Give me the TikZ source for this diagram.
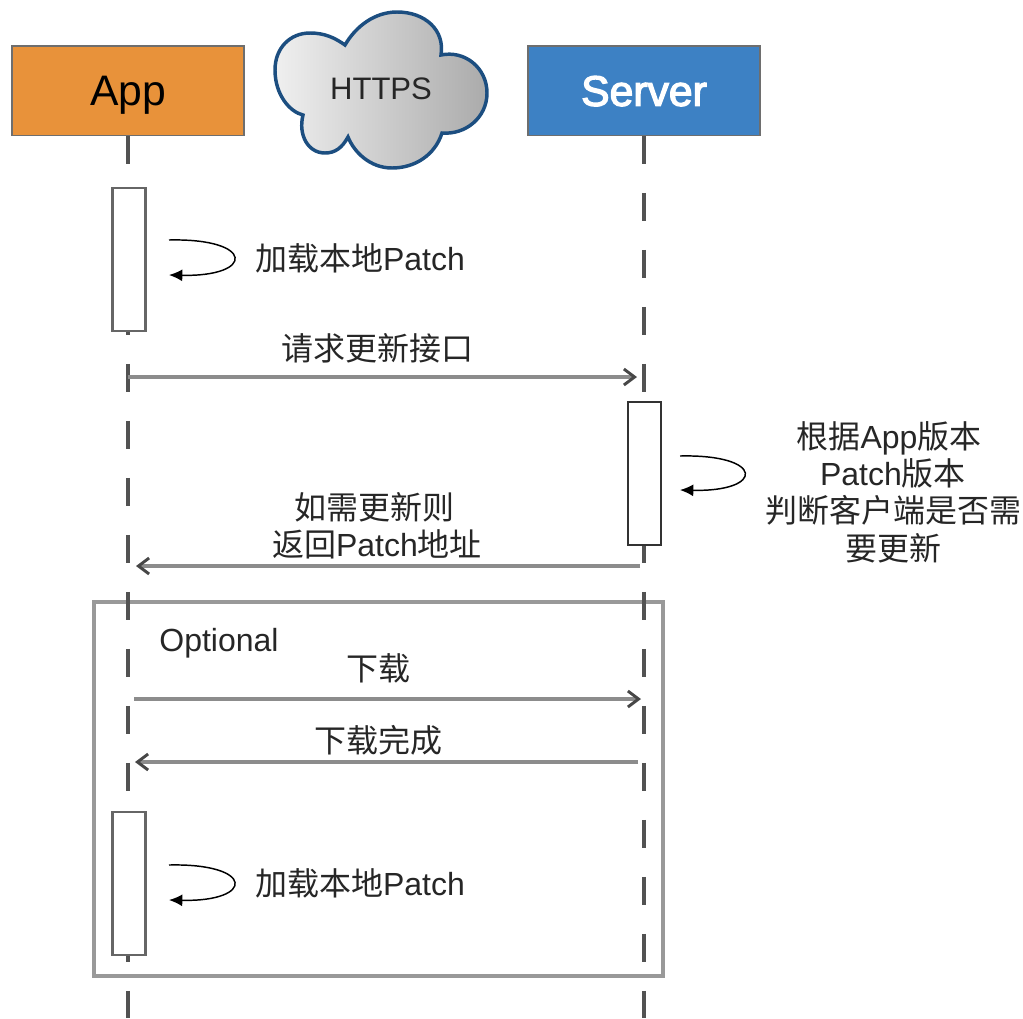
\documentclass[tikz,border=0pt]{standalone}
\usepackage{fontspec}
\setmainfont{Liberation Sans}
\newfontfamily\cjk{Noto Sans CJK SC}
\newfontfamily\heavy[FakeBold=3]{Liberation Sans}
\usetikzlibrary{arrows.meta}
\definecolor{appfill}{HTML}{E8923A}
\definecolor{serverfill}{HTML}{3D81C4}
\definecolor{cloudline}{HTML}{1C4E80}
\definecolor{edgegray}{HTML}{6E6E6E}
\tikzset{
	actor/.style={draw=edgegray,line width=1pt,minimum width=174pt,minimum height=67pt,inner sep=0pt,text height=23pt,text depth=0pt,font=\fontsize{32}{32}\selectfont},
	lifeline/.style={draw=black!68,line width=2.7pt,dash pattern=on 21pt off 21.75pt},
	bar/.style={draw=black!60,fill=white,line width=1.8pt,minimum width=25pt,minimum height=107pt,inner sep=0pt},
	msg/.style={draw=black!45,line width=2.3pt,-{Straight Barb[length=8pt,width=12pt,line width=2.2pt,color=black!72]}},
	selfloop/.style={draw=black,line width=1.1pt,-{Latex[length=10pt,width=9pt]}},
	lbl/.style={font=\fontsize{24}{28}\selectfont,inner sep=0pt,align=center,text=black!85}
}
\begin{document}
\begin{tikzpicture}[x=0.75pt,y=-0.75pt]
		\useasboundingbox (0,0) rectangle (1023,1018);
		\coordinate (appEnd) at (128,1018);
		\coordinate (serverEnd) at (644,1018);
		\node[actor,fill=appfill] (app) at (128,90.5) {App};
		\node[actor,fill=serverfill,text=white] (server) at (644,90.5) {\heavy Server};
		\path[draw=cloudline,line width=2.6pt,left color=black!6,right color=black!33]
			(345,45) .. controls (356,26) and (375,12) .. (397,12)
			.. controls (425,12) and (445,30) .. (441,55)
			.. controls (465,50) and (487,68) .. (487,93)
			.. controls (487,118) and (465,135) .. (442,133)
			.. controls (435,155) and (415,168) .. (392,168)
			.. controls (370,168) and (354,152) .. (348,137)
			.. controls (342,148) and (335,153) .. (325,153)
			.. controls (308,153) and (298,135) .. (303,115)
			.. controls (290,112) and (275,95) .. (275,70)
			.. controls (275,48) and (290,33) .. (310,33)
			.. controls (325,33) and (335,38) .. (345,45) -- cycle;
		\node[font=\fontsize{23.3}{28}\selectfont,inner sep=0pt,text=black!85] (https) at (381,89) {HTTPS};
		\draw[draw=black!40,line width=2.3pt] (94,602) rectangle (663,976);
		\draw[lifeline] (app) -- (appEnd);
		\draw[lifeline] (server) -- (serverEnd);
		\node[bar] (barLoad) at (129,259.5) {};
		\node[bar,draw=black!80,line width=1.4pt] (barCheck) at (644.5,473.5) {};
		\node[bar] (barReload) at (129,883.5) {};
		\coordinate (reqStart) at (128,377);
		\coordinate (reqEnd) at (637,377);
		\coordinate (retStart) at (640,566);
		\coordinate (retEnd) at (136,566);
		\coordinate (dlStart) at (134,699);
		\coordinate (dlEnd) at (641,699);
		\coordinate (doneStart) at (638,762);
		\coordinate (doneEnd) at (135,762);
		\draw[msg] (reqStart) -- (reqEnd);
		\draw[msg] (retStart) -- (retEnd);
		\draw[msg] (dlStart) -- (dlEnd);
		\draw[msg] (doneStart) -- (doneEnd);
		\coordinate (loopA) at (169,240);
		\coordinate (loopB) at (169,275);
		\coordinate (loopC) at (680,456);
		\coordinate (loopD) at (680,490);
		\coordinate (loopE) at (169,865);
		\coordinate (loopF) at (169,900);
		\draw[selfloop] (loopA) .. controls (255,238) and (255,277) .. (loopB);
		\draw[selfloop] (loopC) .. controls (765,454) and (765,492) .. (loopD);
		\draw[selfloop] (loopE) .. controls (255,863) and (255,902) .. (loopF);
		\node[lbl] (loadOne) at (360,258) {{\cjk 加载本地}Patch};
		\node[lbl] (reqLabel) at (377,348) {\cjk 请求更新接口};
		\node[lbl] (checkLabel) at (893,492) {{\cjk 根据}App{\cjk 版本}\hspace*{6pt}\\Patch{\cjk 版本}\hspace*{12pt}\\{\cjk 判断客户端是否需}\\{\cjk 要更新}};
		\node[lbl] (retLabel) at (377,526) {{\cjk 如需更新则}\hspace*{4pt}\\{\cjk 返回}Patch{\cjk 地址}};
		\node[lbl] (optLabel) at (219,643) {Optional};
		\node[lbl] (dlLabel) at (378,668) {\cjk 下载};
		\node[lbl] (doneLabel) at (378,740) {\cjk 下载完成};
		\node[lbl] (loadTwo) at (360,883) {{\cjk 加载本地}Patch};
		\end{tikzpicture}
\end{document}
